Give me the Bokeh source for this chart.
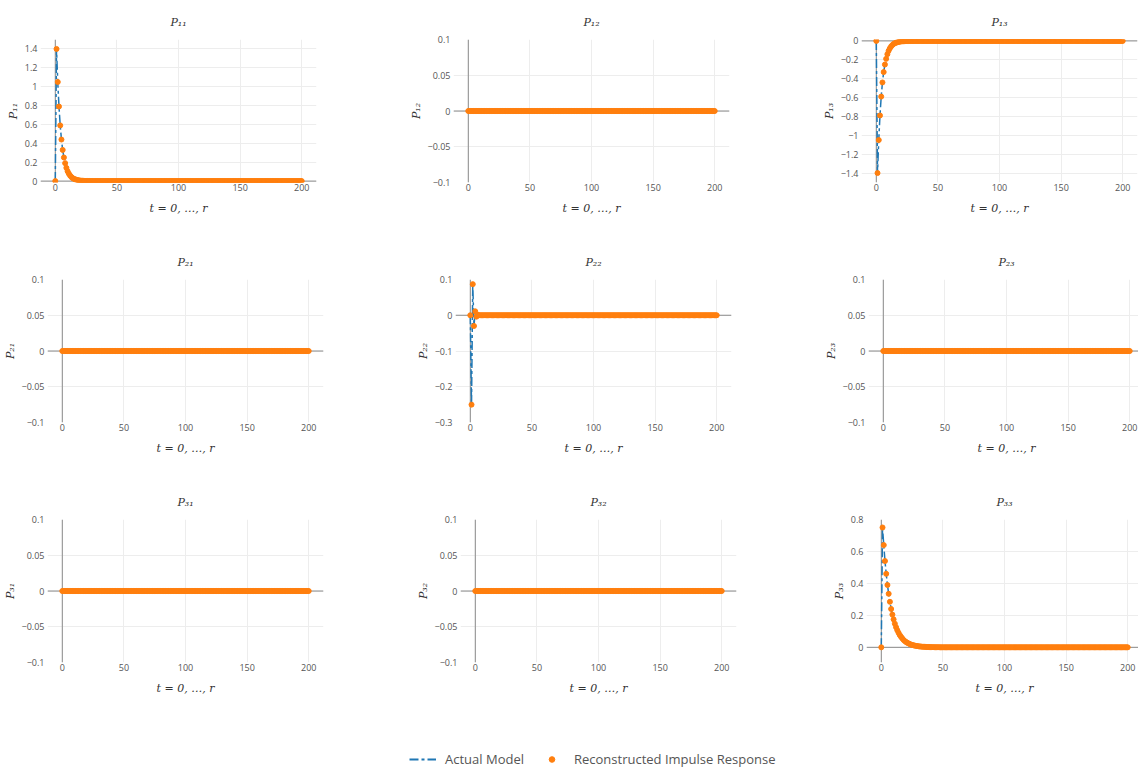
from bokeh.plotting import figure
from bokeh.layouts import column, row
from bokeh.models import Range1d, FixedTicker, Span, Legend, LegendItem
from bokeh.embed import file_html
from bokeh.resources import INLINE

# ---------------- data ----------------
N_T = 201
t_values = list(range(N_T))          # t = 0, ..., 200


def pad(vals):
    """Values beyond those listed are read as 0 (flat tail of each panel)."""
    return vals + [0.0] * (N_T - len(vals))


P11 = pad([0.0, 1.40, 1.05, 0.79, 0.59, 0.44, 0.33, 0.25, 0.19, 0.14, 0.105,
           0.079, 0.059, 0.044, 0.033, 0.025, 0.019, 0.014, 0.011, 0.008,
           0.006, 0.0045, 0.0034, 0.0025, 0.0019, 0.0014, 0.0011, 0.0008,
           0.0006, 0.0005, 0.0003, 0.0002])
P12 = pad([0.0])
P13 = pad([0.0, -1.40, -1.05, -0.79, -0.59, -0.44, -0.33, -0.25, -0.19,
           -0.14, -0.105, -0.079, -0.059, -0.044, -0.033, -0.025, -0.019,
           -0.014, -0.011, -0.008, -0.006, -0.0045, -0.0034, -0.0025,
           -0.0019, -0.0014, -0.0011, -0.0008, -0.0006, -0.0005, -0.0003,
           -0.0002])
P21 = pad([0.0])
P22 = pad([0.0, -0.25, 0.087, -0.03, 0.011, -0.004, 0.0013])
P23 = pad([0.0])
P31 = pad([0.0])
P32 = pad([0.0])
P33 = pad([0.0, 0.75, 0.64, 0.54, 0.46, 0.39, 0.335, 0.285, 0.24, 0.205,
           0.175, 0.148, 0.126, 0.107, 0.091, 0.077, 0.066, 0.056, 0.047,
           0.04, 0.034, 0.029, 0.025, 0.021, 0.018, 0.015, 0.013, 0.011,
           0.0093, 0.0079, 0.0067, 0.0057, 0.0049, 0.0041, 0.0035, 0.003,
           0.0025, 0.0021, 0.0018, 0.0015, 0.0013, 0.0011, 0.0009, 0.0008,
           0.0007, 0.0006, 0.0005, 0.0004])

# Actual model and reconstructed response coincide in every panel
actual = {"11": P11, "12": P12, "13": P13,
          "21": P21, "22": P22, "23": P23,
          "31": P31, "32": P32, "33": P33}
reconstructed = {"11": P11, "12": P12, "13": P13,
                 "21": P21, "22": P22, "23": P23,
                 "31": P31, "32": P32, "33": P33}

panel_keys = [["11", "12", "13"], ["21", "22", "23"], ["31", "32", "33"]]
panel_titles = {"11": "P₁₁", "12": "P₁₂", "13": "P₁₃",
                "21": "P₂₁", "22": "P₂₂", "23": "P₂₃",
                "31": "P₃₁", "32": "P₃₂", "33": "P₃₃"}
x_label = "t = 0, …, r"
series_names = ["Actual Model", "Reconstructed Impulse Response"]

x_ticks = [0, 50, 100, 150, 200]
x_tick_labels = ["0", "50", "100", "150", "200"]

zero_ticks = [-0.1, -0.05, 0, 0.05, 0.1]
zero_tick_labels = ["−0.1", "−0.05", "0", "0.05", "0.1"]
p11_ticks = [0, 0.2, 0.4, 0.6, 0.8, 1.0, 1.2, 1.4]
p11_tick_labels = ["0", "0.2", "0.4", "0.6", "0.8", "1", "1.2", "1.4"]
p13_ticks = [-1.4, -1.2, -1.0, -0.8, -0.6, -0.4, -0.2, 0]
p13_tick_labels = ["−1.4", "−1.2", "−1", "−0.8", "−0.6", "−0.4", "−0.2", "0"]
p22_ticks = [-0.3, -0.2, -0.1, 0, 0.1]
p22_tick_labels = ["−0.3", "−0.2", "−0.1", "0", "0.1"]
p33_ticks = [0, 0.2, 0.4, 0.6, 0.8]
p33_tick_labels = ["0", "0.2", "0.4", "0.6", "0.8"]

y_ticks = {"11": (p11_ticks, p11_tick_labels), "13": (p13_ticks, p13_tick_labels),
           "22": (p22_ticks, p22_tick_labels), "33": (p33_ticks, p33_tick_labels)}

# ---------------- style / layout ----------------
X_RANGE = (-12, 212)
Y_RANGES = {"11": (-0.015, 1.5), "13": (-1.5, 0.015), "22": (-0.3, 0.1),
            "33": (-0.095, 0.8)}
DEFAULT_Y_RANGE = (-0.1, 0.1)

LINE_COLOR = "#1f77b4"
MARKER_COLOR = "#ff7f0e"
GRID_COLOR = "#ededed"
ZERO_COLOR = "#8a8a8a"
TEXT_COLOR = "#555555"
TICK_FONT = "Open Sans"
MATH_FONT = "DejaVu Serif"

FRAME_W, FRAME_H = 276, 143
BORDER_L, BORDER_R, BORDER_R_LAST = 40, 90, 2
BORDER_T, BORDER_B = 39, 58


def make_panel(key, col):
    yr = Y_RANGES.get(key, DEFAULT_Y_RANGE)
    fig = figure(frame_width=FRAME_W, frame_height=FRAME_H,
                 x_range=Range1d(*X_RANGE), y_range=Range1d(*yr),
                 min_border_left=BORDER_L,
                 min_border_right=BORDER_R if col < 2 else BORDER_R_LAST,
                 min_border_top=BORDER_T, min_border_bottom=BORDER_B,
                 output_backend="svg", toolbar_location=None,
                 title=panel_titles[key])
    fig.outline_line_color = None
    fig.background_fill_color = "white"
    fig.border_fill_color = "white"

    t = fig.title
    t.align = "center"
    t.text_font = MATH_FONT
    t.text_font_style = "italic"
    t.text_font_size = "11px"
    t.text_color = "#333333"
    t.standoff = 21
    t.text_line_height = 1.0

    yt, ytl = y_ticks.get(key, (zero_ticks, zero_tick_labels))

    for ax in (fig.xaxis[0], fig.yaxis[0]):
        ax.axis_line_color = None
        ax.major_tick_line_color = None
        ax.minor_tick_line_color = None
        ax.major_tick_out = 0
        ax.major_tick_in = 0
        ax.major_label_text_font = TICK_FONT
        ax.major_label_text_font_size = "9px"
        ax.major_label_text_color = TEXT_COLOR
        ax.axis_label_text_font = MATH_FONT
        ax.axis_label_text_font_style = "italic"
        ax.axis_label_text_font_size = "11px"
        ax.axis_label_text_color = "#333333"

    xa = fig.xaxis[0]
    xa.ticker = FixedTicker(ticks=x_ticks)
    xa.major_label_overrides = {v: s for v, s in zip(x_ticks, x_tick_labels)}
    xa.major_label_standoff = 1
    xa.axis_label = x_label
    xa.axis_label_standoff = 8

    ya = fig.yaxis[0]
    ya.ticker = FixedTicker(ticks=yt)
    ya.major_label_overrides = {v: s for v, s in zip(yt, ytl)}
    ya.major_label_standoff = 3
    ya.axis_label = panel_titles[key]
    ya.axis_label_standoff = 2

    fig.xgrid.grid_line_color = GRID_COLOR
    fig.ygrid.grid_line_color = GRID_COLOR
    fig.xgrid.ticker = FixedTicker(ticks=x_ticks)
    fig.ygrid.ticker = FixedTicker(ticks=yt)

    fig.add_layout(Span(location=0, dimension="width", line_color=ZERO_COLOR,
                        line_width=1, level="underlay"))
    fig.add_layout(Span(location=0, dimension="height", line_color=ZERO_COLOR,
                        line_width=1, level="underlay"))

    fig.line(t_values, actual[key], line_color=LINE_COLOR, line_width=1.5,
             line_dash="9 3 3 3")
    fig.scatter(t_values, reconstructed[key], size=5, fill_color=MARKER_COLOR,
                line_color=MARKER_COLOR)
    return fig


rows = [row(*[make_panel(k, c) for c, k in enumerate(r_keys)]) for r_keys in panel_keys]

# ---------------- shared legend strip ----------------
# The strip's ranges keep its two sample series out of view: only their legend
# entries are shown.
leg = figure(width=1130, height=49, x_range=Range1d(-3, -2), y_range=Range1d(-3, -2),
             min_border=0, min_border_left=0, min_border_right=0,
             min_border_top=0, min_border_bottom=0,
             output_backend="svg", toolbar_location=None,
             x_axis_type=None, y_axis_type=None)
leg.outline_line_color = None
leg.background_fill_color = "white"
leg.border_fill_color = "white"
r1 = leg.line(t_values, actual["11"], line_color=LINE_COLOR, line_width=2,
              line_dash="9 3 3 3")
r2 = leg.scatter(t_values, reconstructed["11"], size=6, fill_color=MARKER_COLOR,
                 line_color=MARKER_COLOR)
legend = Legend(items=[LegendItem(label=series_names[0], renderers=[r1]),
                       LegendItem(label=series_names[1], renderers=[r2])],
                orientation="horizontal", location=(409, 1))
legend.label_text_font = TICK_FONT
legend.label_text_font_size = "13px"
legend.label_text_color = TEXT_COLOR
legend.glyph_width = 27
legend.glyph_height = 14
legend.label_height = 14
legend.label_standoff = 9
legend.spacing = 14
legend.padding = 0
legend.margin = 0
legend.border_line_color = None
legend.background_fill_alpha = 0
leg.add_layout(legend)

p = column(*rows, leg)

open("out.html", "w").write(file_html(p, INLINE))
